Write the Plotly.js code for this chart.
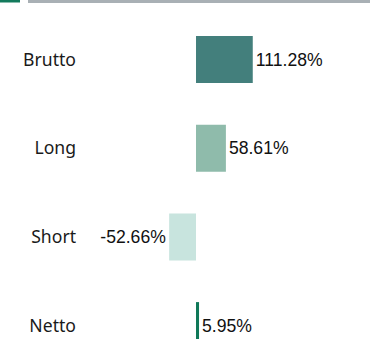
<!DOCTYPE html>
<html>
<head>
<meta charset="utf-8">
<script src="https://cdn.plot.ly/plotly-3.0.1.min.js"></script>
<style>html,body{margin:0;padding:0;background:#fff;overflow:hidden}</style>
</head>
<body>
<div id="chart" style="width:370px;height:339px"></div>
<script>
const categories = ['Brutto', 'Long', 'Short', 'Netto'];
const values = [111.28, 58.61, -52.66, 5.95];
const valueLabels = values.map(v => v.toFixed(2) + '%');
const barColors = ['#437f7c', '#8fbbab', '#c8e4de', '#0f7858'];

const L = 80, W = 370, H = 339;
const pw = W - L;

const trace = {
  type: 'bar',
  orientation: 'h',
  y: categories,
  x: values,
  text: valueLabels,
  textposition: 'outside',
  cliponaxis: false,
  textfont: {family: 'Arial, Liberation Sans, sans-serif', size: 17.6, color: '#111111'},
  marker: {color: barColors},
  hoverinfo: 'none'
};

const layout = {
  width: W, height: H,
  margin: {l: L, r: 0, t: 0, b: 0, pad: 0},
  paper_bgcolor: '#ffffff',
  plot_bgcolor: '#ffffff',
  showlegend: false,
  bargap: 0.47,
  xaxis: {range: [-227.5, 341.2], showgrid: false, zeroline: false, showticklabels: false, showline: false, fixedrange: true},
  yaxis: {type: 'category', range: [3.151, -0.671], showgrid: false, zeroline: false, showline: false, ticks: '',
          ticklabelstandoff: 3,
          tickfont: {family: 'Noto Sans, sans-serif', size: 17.6, color: '#1a1a1a'}, automargin: false, fixedrange: true},
  shapes: [
    {type: 'rect', xref: 'paper', yref: 'paper', x0: (0 - L) / pw, x1: (20 - L) / pw, y0: 1 - 2.5 / H, y1: 1.01,
     line: {width: 0}, fillcolor: '#137a5c', layer: 'above'},
    {type: 'rect', xref: 'paper', yref: 'paper', x0: (28 - L) / pw, x1: 1.01, y0: 1 - 3 / H, y1: 1.01,
     line: {width: 0}, fillcolor: '#a9b0b5', layer: 'above'}
  ]
};

Plotly.newPlot('chart', [trace], layout, {displayModeBar: false, staticPlot: true});
</script>
</body>
</html>
